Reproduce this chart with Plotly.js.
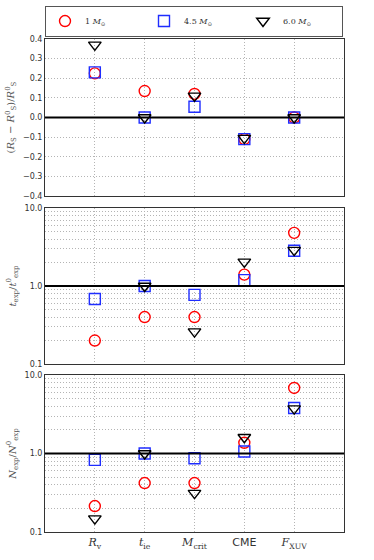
<!DOCTYPE html>
<html>
<head>
<meta charset="utf-8">
<script src="https://cdn.plot.ly/plotly-3.0.1.min.js"></script>
<style>
  html, body { margin: 0; padding: 0; background: #fff; }
  #chart { width: 374px; height: 560px; }
</style>
</head>
<body>
<div id="chart"></div>
<script>
// Kategorien (x-Achse)
const categories = [0, 1, 2, 3, 4];
const catLabels = [
  "<i>R</i><sub>v</sub>",
  "<i>t</i><sub>ie</sub>",
  "<i>M</i><sub>crit</sub>",
  "<span style='font-family:DejaVu Sans'>CME</span>",
  "<i>F</i><sub>XUV</sub>",
];
const massNames = [
  "1 <i>M</i><sub>⊙</sub>",
  "4.5 <i>M</i><sub>⊙</sub>",
  "6.0 <i>M</i><sub>⊙</sub>",
];

// (R_S - R_S^0)/R_S^0
const radius1 = [0.225, 0.135, 0.12, -0.11, 0.0];
const radius45 = [0.23, 0.0, 0.055, -0.11, 0.0];
const radius60 = [0.37, 0.0, 0.11, -0.105, 0.0];

// t_exp / t_exp^0
const texp1 = [0.2, 0.4, 0.4, 1.4, 4.8];
const texp45 = [0.68, 1.0, 0.77, 1.19, 2.83];
const texp60 = [null, 1.0, 0.26, 2.04, 2.88];

// N_exp / N_exp^0
const nexp1 = [0.214, 0.42, 0.42, 1.37, 6.84];
const nexp45 = [0.83, 1.0, 0.87, 1.06, 3.8];
const nexp60 = [0.148, 1.0, 0.313, 1.61, 3.73];

const logMajor = [0.1, 1, 10];
const logMajorText = ["0.1", "1.0", "10.0"];
const logMinor = [0.2, 0.3, 0.4, 0.5, 0.6, 0.7, 0.8, 0.9, 2, 3, 4, 5, 6, 7, 8, 9];

const styles = [
  { symbol: "circle-open", color: "#ff0000" },
  { symbol: "square-open", color: "#1f2dff" },
  { symbol: "triangle-down-open", color: "#000000" },
];

function series(values, idx, yaxis, showlegend) {
  return {
    type: "scatter",
    mode: "markers",
    x: categories,
    y: values,
    xaxis: "x",
    yaxis: yaxis,
    name: massNames[idx],
    legendgroup: "m" + idx,
    showlegend: showlegend,
    marker: {
      symbol: styles[idx].symbol,
      size: 11,
      color: styles[idx].color,
      line: { width: 1.4, color: styles[idx].color },
    },
  };
}

const traces = [
  series(radius1, 0, "y", true),
  series(radius45, 1, "y", true),
  series(radius60, 2, "y", true),
  series(texp1, 0, "y2", false),
  series(texp45, 1, "y2", false),
  series(texp60, 2, "y2", false),
  series(nexp1, 0, "y3", false),
  series(nexp45, 1, "y3", false),
  series(nexp60, 2, "y3", false),
];

const tickFont = { family: "DejaVu Sans", size: 8, color: "#333" };
const titleFont = { family: "DejaVu Serif", size: 10, color: "#555" };
const gridStyle = { showgrid: true, gridcolor: "#b4b4b4", griddash: "1px,2px", gridwidth: 1 };

const logAxis = (domain, title) => ({
  domain: domain,
  type: "log",
  range: [-1, 1],
  tickmode: "array",
  tickvals: logMajor,
  ticktext: logMajorText,
  tickfont: tickFont,
  ...gridStyle,
  minor: { tickmode: "array", tickvals: logMinor, showgrid: true, gridcolor: "#b4b4b4", griddash: "1px,2px", ticks: "" },
  showline: true,
  mirror: "all",
  linecolor: "#333",
  linewidth: 1,
  zeroline: false,
  anchor: "x",
  title: { text: title, font: titleFont, standoff: 6 },
});

const hline = (yref, y) => ({
  type: "line",
  xref: "x domain",
  x0: 0,
  x1: 1,
  yref: yref,
  y0: y,
  y1: y,
  line: { color: "#000", width: 2 },
});

const layout = {
  width: 374,
  height: 560,
  paper_bgcolor: "#fff",
  plot_bgcolor: "#fff",
  margin: { l: 45, r: 30, t: 39, b: 28, autoexpand: false },
  showlegend: true,
  legend: {
    orientation: "h",
    x: 0,
    y: 1.005,
    xanchor: "left",
    yanchor: "bottom",
    bordercolor: "#555",
    borderwidth: 1,
    entrywidth: 54,
    tracegroupgap: 0,
    font: { family: "DejaVu Serif", size: 8, color: "#333" },
    itemclick: false,
  },
  xaxis: {
    range: [-1, 5],
    tickmode: "array",
    tickvals: categories,
    ticktext: catLabels,
    tickfont: { family: "DejaVu Serif", size: 11, color: "#333" },
    ...gridStyle,
    showline: true,
    mirror: "all",
    linecolor: "#333",
    linewidth: 1,
    zeroline: false,
    anchor: "y3",
  },
  yaxis: {
    domain: [0.6815, 1],
    range: [-0.4, 0.4],
    dtick: 0.1,
    tickformat: ".1f",
    tickfont: tickFont,
    ...gridStyle,
    showline: true,
    mirror: "all",
    linecolor: "#333",
    linewidth: 1,
    zeroline: false,
    anchor: "x",
    title: {
      text: "(<i>R</i><sub>S</sub> − <i>R</i><sup>0</sup><sub>S</sub>)/<i>R</i><sup>0</sup><sub>S</sub>",
      font: titleFont,
      standoff: 6,
    },
  },
  yaxis2: logAxis([0.3408, 0.6572], "<i>t</i><sub>exp</sub>/<i>t</i><sup>0</sup><sub>exp</sub>"),
  yaxis3: logAxis([0, 0.3185], "<i>N</i><sub>exp</sub>/<i>N</i><sup>0</sup><sub>exp</sub>"),
  shapes: [hline("y", 0), hline("y2", 1), hline("y3", 1)],
};

Plotly.newPlot("chart", traces, layout, { displayModeBar: false, staticPlot: true });
</script>
</body>
</html>
